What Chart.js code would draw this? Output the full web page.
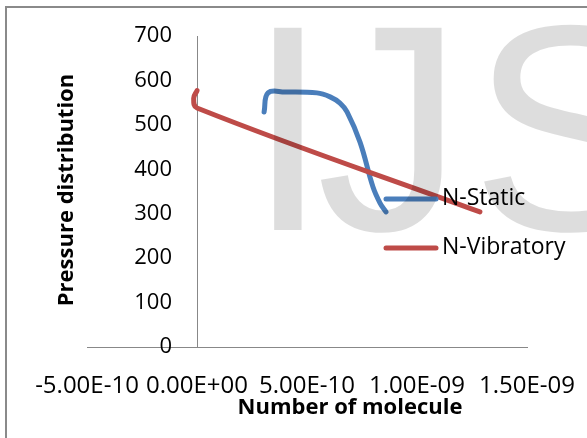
<!DOCTYPE html>
<html>
<head>
<meta charset="utf-8">
<script src="https://cdn.jsdelivr.net/npm/chart.js@4.4.0/dist/chart.umd.min.js"></script>
<style>
  html, body { margin: 0; padding: 0; background: #fff; }
  canvas { display: block; }
</style>
</head>
<body>
<canvas id="chart" width="587" height="438"></canvas>
<script>
// data
var staticX = [3.05e-10, 3.23e-10, 4.0e-10, 5.45e-10, 6.05e-10, 6.5e-10, 6.82e-10, 7.41e-10, 8.0e-10, 8.32e-10, 8.59e-10]
var staticY = [529, 572, 574, 572, 563, 549, 529, 461, 360, 324, 304]
var vibX = [0, -1.5e-11, 0, 1.286e-9]
var vibY = [577, 560, 538, 304]

var seriesNames = ['N-Static', 'N-Vibratory']
var xTicks = [-5e-10, 0, 5e-10, 1e-9, 1.5e-9]
var yTicks = [0, 100, 200, 300, 400, 500, 600, 700]
var xTitle = 'Number of molecule'
var yTitle = 'Pressure distribution'

function pts(xs, ys) {
    return xs.map((x, i) => ({ x: x, y: ys[i] }))
}

// Excel style 0.00E+00
function sci(v) {
    if (Math.abs(v) < 1e-15) v = 0
    var parts = v.toExponential(2).split('e')
    var exp = parseInt(parts[1])
    var a = Math.abs(exp)
    return parts[0] + 'E' + (exp < 0 ? '-' : '+') + (a < 10 ? '0' : '') + a
}

function noPad(s) {
    s.paddingLeft = 0
    s.paddingRight = 0
    s.paddingTop = 0
    s.paddingBottom = 0
}

var decor = {
    id: 'decor',
    afterLayout(chart) {
        // value axis crosses at x = 0
        var y = chart.scales.y
        var d = chart.scales.x.getPixelForValue(0) - y.right
        y.left += d
        y.right += d
    },
    beforeDraw(chart) {
        var c = chart.ctx
        c.save()
        c.fillStyle = '#fff'
        c.fillRect(0, 0, chart.width, chart.height)
        c.strokeStyle = '#8a8a8a'
        c.lineWidth = 2
        c.strokeRect(6, 7, 620, 460)
        c.restore()
    },
    afterDraw(chart) {
        var c = chart.ctx
        c.save()
        c.fillStyle = '#000'
        c.font = 'bold 22px "Open Sans"'
        c.textAlign = 'center'
        c.textBaseline = 'middle'
        c.fillText(xTitle, 350, 408)
        c.save()
        c.translate(67, 190)
        c.rotate(-Math.PI / 2)
        c.fillText(yTitle, 0, 0)
        c.restore()

        // legend
        var rows = [199, 248]
        c.font = '23px "Open Sans"'
        c.textAlign = 'left'
        c.textBaseline = 'middle'
        c.lineCap = 'round'
        c.lineWidth = 5
        seriesNames.forEach((name, i) => {
            var ds = chart.data.datasets.find(d => d.label == name)
            c.strokeStyle = ds.borderColor
            c.beginPath()
            c.moveTo(386, rows[i])
            c.lineTo(436, rows[i])
            c.stroke()
            c.fillStyle = '#000'
            c.fillText(name, 442, rows[i] - 1)
        })

        // watermark on top
        c.font = '294px "Liberation Sans"'
        c.fillStyle = 'rgba(0,0,0,0.135)'
        c.textBaseline = 'alphabetic'
        var m = c.measureText('I')
        c.fillText('I', 270 + m.actualBoundingBoxLeft, 230)
        m = c.measureText('J')
        c.fillText('J', 445 - m.actualBoundingBoxRight, 230)
        m = c.measureText('S')
        c.fillText('S', 480 + m.actualBoundingBoxLeft, 230)
        c.restore()
    }
}

const ctx = document.getElementById('chart')
Chart.defaults.font.family = '"Open Sans"'
Chart.defaults.font.size = 22
Chart.defaults.color = '#000'
new Chart(ctx, {
    type: 'scatter',
    data: {
        datasets: [{
            label: seriesNames[0],
            data: pts(staticX, staticY),
            showLine: true,
            borderColor: '#4a7ebb',
            borderWidth: 5,
            borderCapStyle: 'round',
            borderJoinStyle: 'round',
            pointRadius: 0,
            tension: 0.4,
            order: 2
        }, {
            label: seriesNames[1],
            data: pts(vibX, vibY),
            showLine: true,
            borderColor: '#be4b48',
            borderWidth: 5,
            borderCapStyle: 'round',
            borderJoinStyle: 'round',
            pointRadius: 0,
            tension: 0.4,
            order: 1
        }]
    },
    options: {
        responsive: false,
        animation: false,
        devicePixelRatio: 1,
        layout: { padding: { left: 7, right: 60, top: 36, bottom: 91 } },
        plugins: { legend: { display: false }, tooltip: { enabled: false } },
        scales: {
            x: {
                type: 'linear',
                position: { y: 0 },
                min: xTicks[0],
                max: xTicks[xTicks.length - 1],
                afterBuildTicks: (s) => { s.ticks = xTicks.map(v => ({ value: v })) },
                afterFit: noPad,
                grid: { display: false, drawTicks: false },
                border: { display: true, color: '#888', width: 1 },
                ticks: { callback: (v) => sci(v), autoSkip: false, maxRotation: 0, padding: 25, font: { size: 24 } }
            },
            y: {
                type: 'linear',
                position: 'left',
                min: yTicks[0],
                max: yTicks[yTicks.length - 1],
                afterBuildTicks: (s) => { s.ticks = yTicks.map(v => ({ value: v })) },
                afterFit: (s) => { s.width = 80; noPad(s) },
                grid: { display: false, drawTicks: false },
                border: { display: true, color: '#888', width: 1 },
                ticks: { autoSkip: false, padding: 25 }
            }
        }
    },
    plugins: [decor]
});
</script>
</body>
</html>
